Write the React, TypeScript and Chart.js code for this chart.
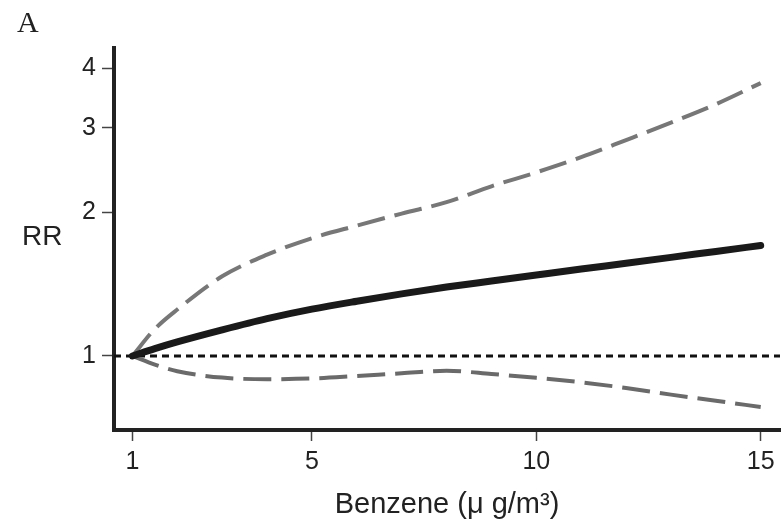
import { useEffect, useRef } from "react";
import { Chart, registerables } from "chart.js";

Chart.register(...registerables);

// Benzene concentration (µg/m³)
const xValues = [1, 1.5, 2, 3, 4, 5, 6, 7, 8, 9, 10, 11, 12, 13, 14, 15];
// Relative risk estimate and 95% CI
const rrEstimate = [1.0, 1.036, 1.07, 1.134, 1.197, 1.253, 1.302, 1.349, 1.394, 1.435, 1.477, 1.52, 1.563, 1.608, 1.655, 1.703];
const rrUpper = [1.0, 1.139, 1.251, 1.468, 1.629, 1.764, 1.874, 1.986, 2.098, 2.265, 2.422, 2.606, 2.83, 3.078, 3.363, 3.724];
const rrLower = [1.0, 0.959, 0.929, 0.901, 0.894, 0.897, 0.908, 0.92, 0.931, 0.917, 0.9, 0.881, 0.857, 0.83, 0.806, 0.782];

const xTicks = [1, 5, 10, 15];
const yTicks = [1, 2, 3, 4];
const X_MIN = 0.59;
const X_MAX = 15.43;
const Y_MIN = 0.713;
const Y_MAX = 4.41;
const refX = [X_MIN, X_MAX];
const refY = [1, 1];

const SANS = '"Liberation Sans", Arial, sans-serif';

const textPlugin = {
  id: "textPlugin",
  afterDraw(chart: any) {
    const ctx = chart.ctx;
    const area = chart.chartArea;
    ctx.save();
    ctx.fillStyle = "#222";
    ctx.textBaseline = "alphabetic";
    ctx.textAlign = "left";
    ctx.font = '30px "Liberation Serif", "Times New Roman", serif';
    ctx.fillText("A", 17, 32);
    ctx.font = "28px " + SANS;
    ctx.fillText("RR", 22, 245);
    ctx.font = "29px " + SANS;
    ctx.textAlign = "center";
    ctx.fillText("Benzene (\u03bc g/m\u00b3)", (area.left + area.right) / 2, 513);
    ctx.restore();
  },
};

export default function App() {
  const ref = useRef<HTMLCanvasElement>(null);
  useEffect(() => {
    const canvas = ref.current!;
    const pts = (xs: number[], ys: number[]) => xs.map((x, i) => ({ x, y: ys[i] }));
    const chart = new Chart(canvas, {
      type: "line",
      data: {
        datasets: [
          {
            data: pts(xValues, rrEstimate),
            borderColor: "#1a1a1a",
            borderWidth: 7,
            borderCapStyle: "round",
            pointRadius: 0,
            cubicInterpolationMode: "monotone",
            order: 0,
          },
          {
            data: pts(xValues, rrUpper),
            borderColor: "#777",
            borderWidth: 4,
            borderDash: [28, 10],
            pointRadius: 0,
            cubicInterpolationMode: "monotone",
            order: 1,
          },
          {
            data: pts(xValues, rrLower),
            borderColor: "#6a6a6a",
            borderWidth: 4,
            borderDash: [28, 10],
            pointRadius: 0,
            cubicInterpolationMode: "monotone",
            order: 1,
          },
          {
            data: pts(refX, refY),
            borderColor: "#111",
            borderWidth: 3,
            borderDash: [7, 5],
            pointRadius: 0,
            order: 2,
          },
        ],
      },
      options: {
        responsive: false,
        animation: false,
        layout: { padding: { top: 48, right: 2, left: 0, bottom: 0 } },
        plugins: { legend: { display: false }, tooltip: { enabled: false } },
        scales: {
          x: {
            type: "linear",
            min: X_MIN,
            max: X_MAX,
            afterBuildTicks: (s: any) => {
              s.ticks = xTicks.map((v) => ({ value: v }));
            },
            afterFit: (s: any) => {
              s.height = 93;
            },
            grid: { drawOnChartArea: false, drawTicks: true, tickLength: 11, tickColor: "#444", tickWidth: 1.5 },
            border: { display: true, color: "#222", width: 4 },
            ticks: {
              font: { family: SANS, size: 25 },
              color: "#222",
              padding: 6,
              maxRotation: 0,
              autoSkip: false,
              callback: (v: any) => String(v),
            },
          },
          y: {
            type: "logarithmic",
            min: Y_MIN,
            max: Y_MAX,
            afterBuildTicks: (s: any) => {
              s.ticks = yTicks.map((v) => ({ value: v }));
            },
            afterFit: (s: any) => {
              s.width = 114;
            },
            grid: { drawOnChartArea: false, drawTicks: true, tickLength: 12, tickColor: "#444", tickWidth: 1.5 },
            border: { display: true, color: "#222", width: 4 },
            ticks: {
              font: { family: SANS, size: 25 },
              color: "#222",
              padding: 6,
              autoSkip: false,
              callback: (v: any) => String(v),
            },
          },
        },
      },
      plugins: [textPlugin],
    } as any);
    return () => chart.destroy();
  }, []);
  return (
    <div style={{ position: "absolute", left: 0, top: 0, width: 782, height: 523, background: "#fff" }}>
      <canvas ref={ref} width={782} height={523} style={{ display: "block" }} />
    </div>
  );
}
